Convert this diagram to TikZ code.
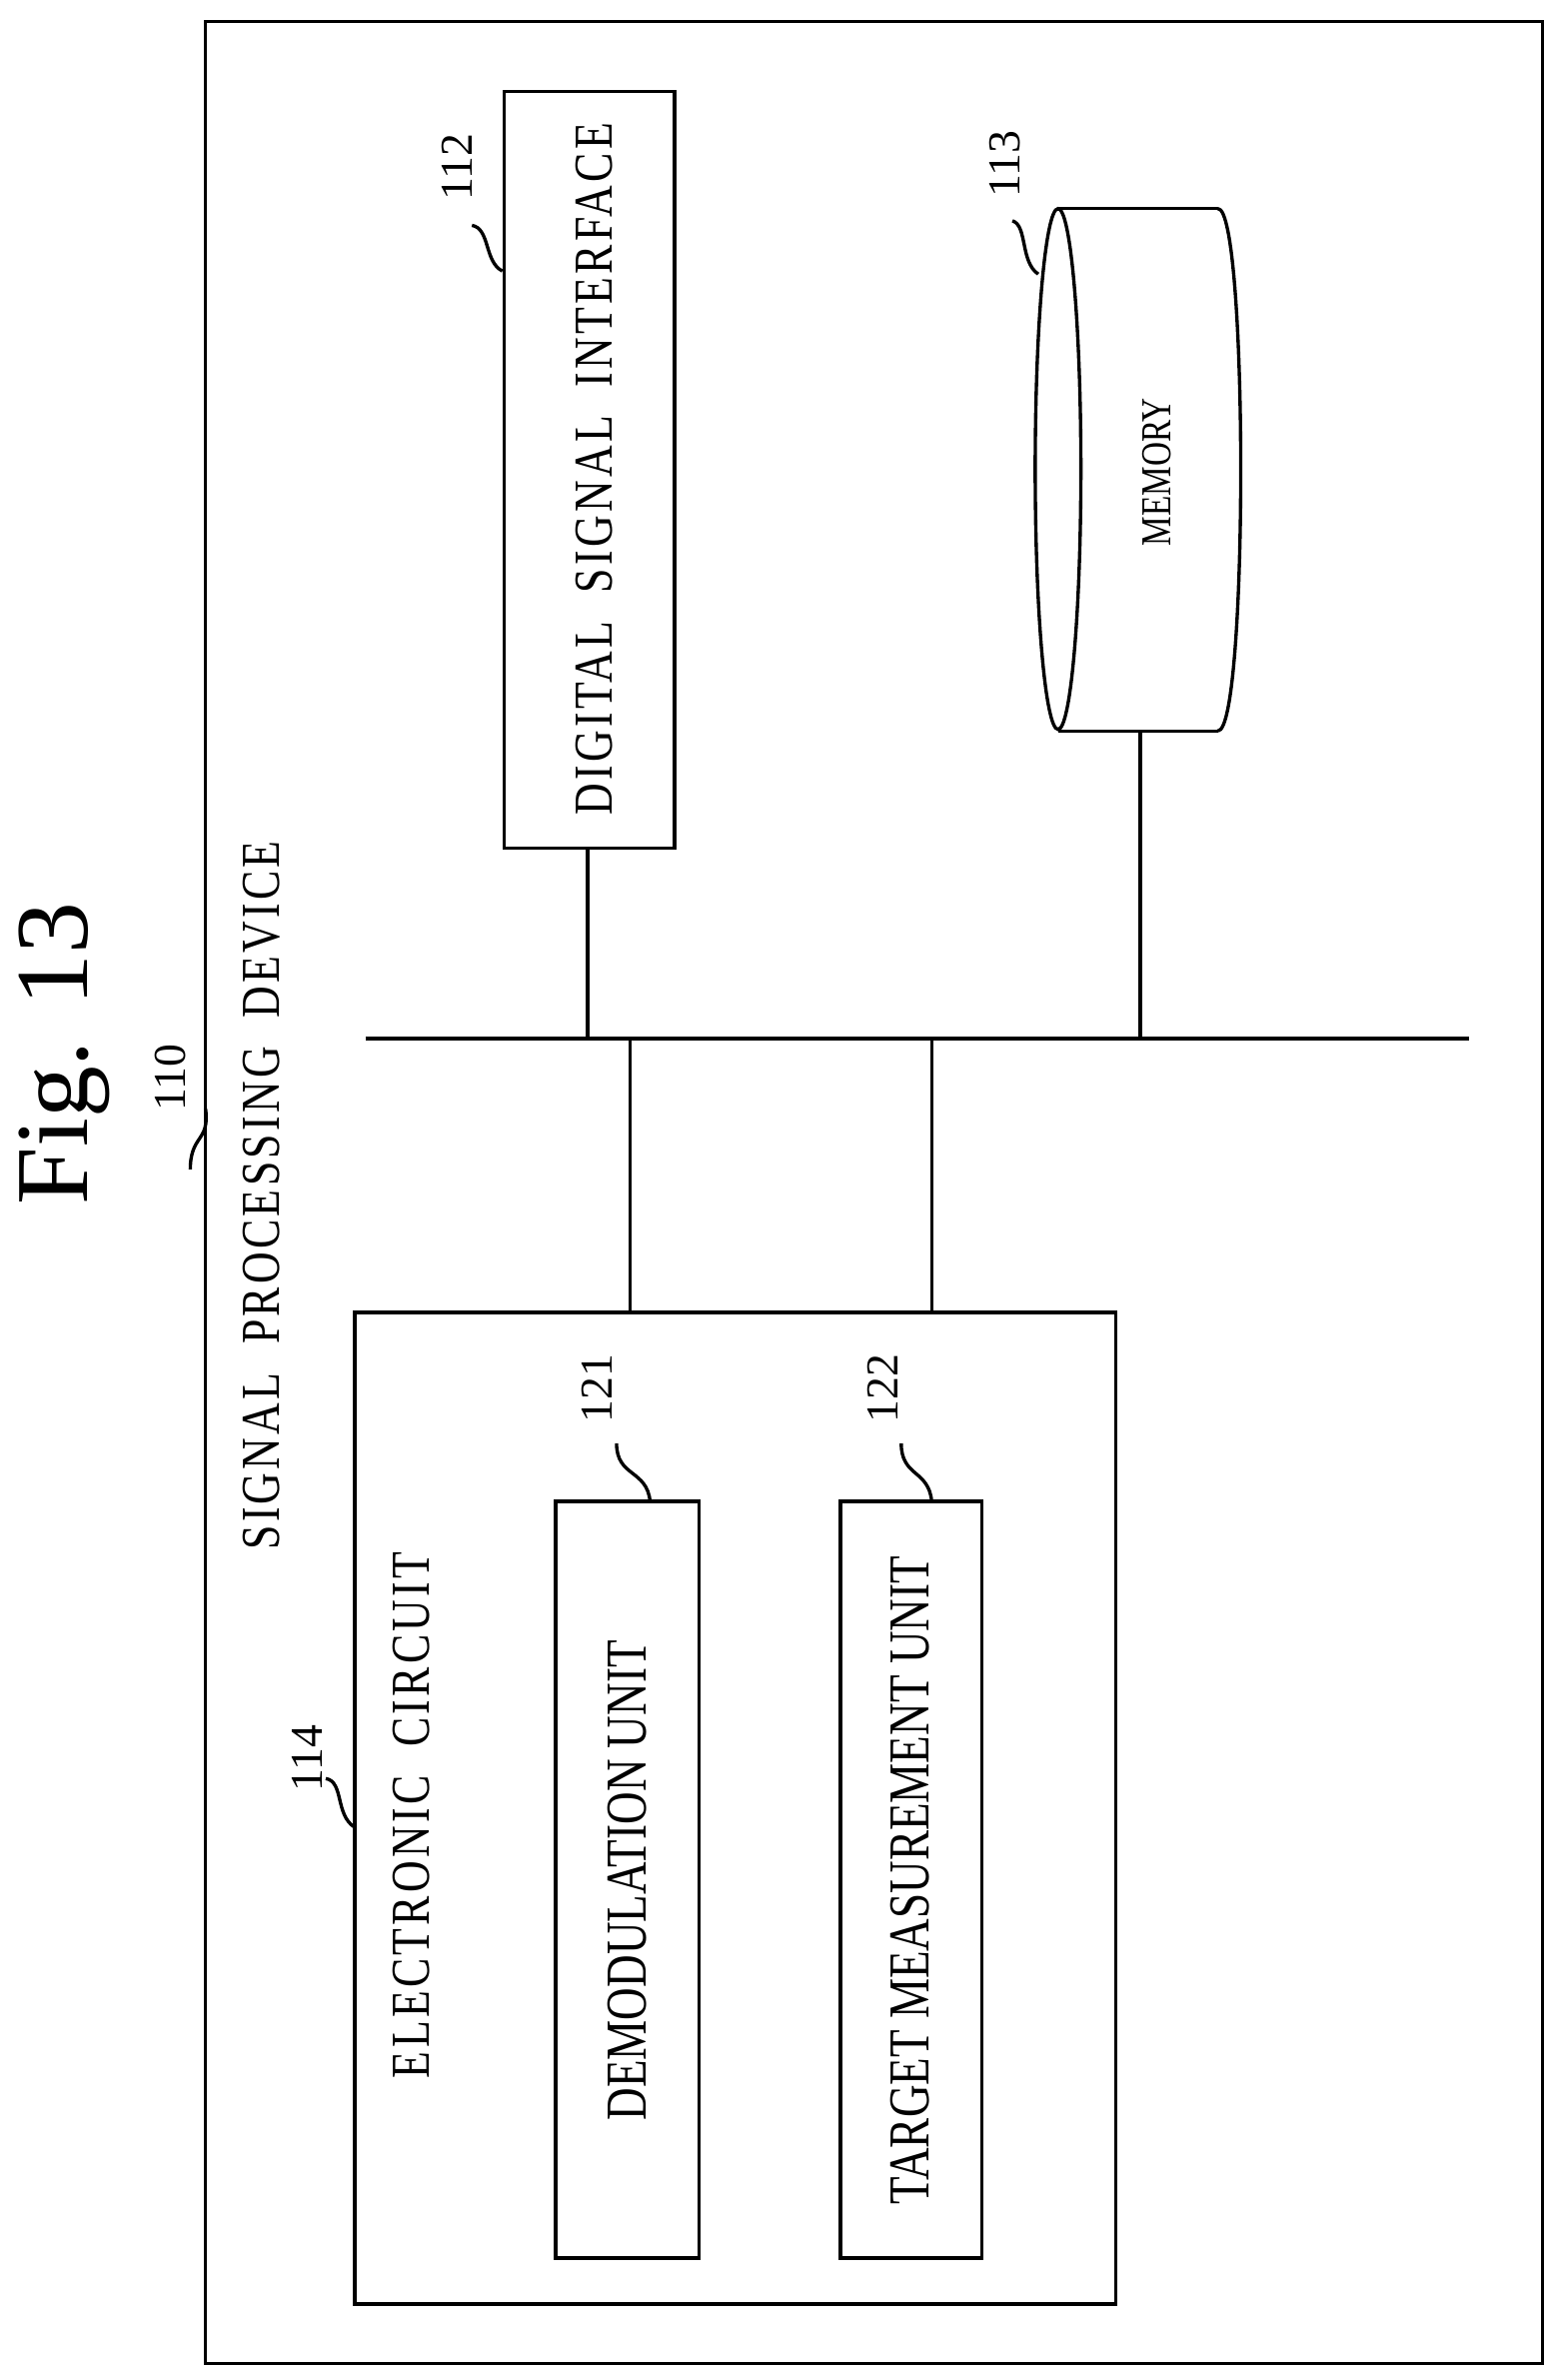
\documentclass[tikz,border=0pt]{standalone}
\usepackage{fontspec}
\setmainfont{Liberation Serif}[FakeStretch=0.8,LetterSpace=6,WordSpace=2]
\newfontfamily\numfont{Liberation Serif}
\newfontfamily\condfont{Liberation Serif}[FakeStretch=0.78]
\begin{document}
\begin{tikzpicture}[x=1pt,y=-1pt,line width=2.2pt,
  lbl/.style={rotate=90,font=\fontsize{36}{40}\selectfont,inner sep=0},
  clbl/.style={rotate=90,font=\condfont\fontsize{38}{40}\selectfont,inner sep=0},
  num/.style={rotate=90,font=\numfont\fontsize{30}{32}\selectfont,inner sep=0},
  box/.style={draw,line width=2.2pt}]
\useasboundingbox (0,0) rectangle (1024,1563);
\draw[box] (135,14) rectangle (1013,1552);
\node[rotate=90,font=\numfont\fontsize{68}{70}\selectfont] (fig) at (42,692) {Fig. 13};
\node[num] (n110) at (112,708) {110};
\draw (125,768) .. controls (125,745) and (138,750) .. (135,728);
\node[lbl] (spd) at (172,785) {SIGNAL PROCESSING DEVICE};
% DSI
\draw[box] (331,60) rectangle (443,557);
\node[lbl] (dsi) at (390,308) {DIGITAL SIGNAL INTERFACE};
\node[num] (n112) at (300,110) {112};
\draw (330,178) .. controls (318,172) and (322,150) .. (310,148);
% memory
\draw (695,137) -- (800,137);
\draw (695,480) -- (800,480);
\draw (695,308) ellipse (15 and 171);
\draw (800,137) .. controls (820,137) and (820,480) .. (800,480);
\node[clbl,font=\condfont\fontsize{28}{30}\selectfont] (mem) at (760,310) {MEMORY};
\node[num] (n113) at (660,108) {113};
\draw (682,180) .. controls (670,172) and (675,148) .. (665,145);
% bus
\coordinate (b0) at (240,682); \coordinate (b1) at (965,682);
\draw (b0) -- (b1);
\draw (386,557) -- (386,682);
\draw (749,480) -- (749,682);
\draw (414,682) -- (414,862);
\draw (612,682) -- (612,862);
% electronic circuit
\draw[box] (233,862) rectangle (733,1513);
\node[lbl] (ec) at (270,1192) {ELECTRONIC CIRCUIT};
\node[num] (n114) at (202,1155) {114};
\draw (233,1200) .. controls (220,1192) and (226,1170) .. (214,1168);
\draw[box] (365,986) rectangle (459,1483);
\node[clbl] (dem) at (412,1235) {DEMODULATION UNIT};
\node[num] (n121) at (392,912) {121};
\draw (427,986) .. controls (425,965) and (405,970) .. (405,948);
\draw[box] (552,986) rectangle (645,1483);
\node[clbl] (tmu) at (598,1235) {TARGET MEASUREMENT UNIT};
\node[num] (n122) at (580,912) {122};
\draw (612,986) .. controls (610,965) and (592,970) .. (592,948);
\end{tikzpicture}
\end{document}
